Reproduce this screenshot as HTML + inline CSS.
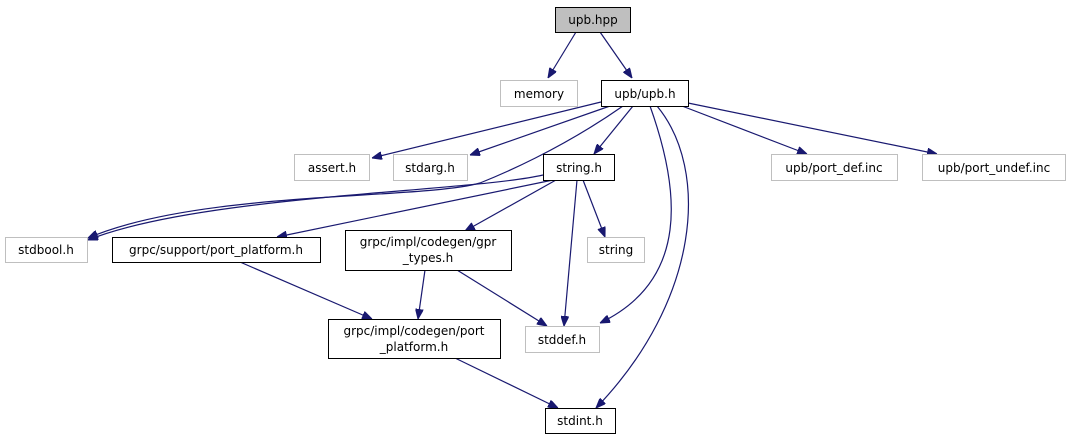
<!DOCTYPE html>
<html><head><meta charset="utf-8"><style>
html,body{margin:0;padding:0;background:#fff;width:1070px;height:440px;overflow:hidden}
text{font-family:"DejaVu Sans","Liberation Sans",sans-serif;font-size:12px;fill:#000}
</style></head><body>
<svg width="1070" height="440" viewBox="0 0 1070 440" xmlns="http://www.w3.org/2000/svg">
<defs><marker id="a" markerWidth="10" markerHeight="8" refX="10" refY="4" orient="auto" markerUnits="userSpaceOnUse"><path d="M0,0 L10,4 L0,8 z" fill="#191970" stroke="#191970"/></marker></defs>
<g fill="none" stroke="#191970" stroke-width="1.2" marker-end="url(#a)">
<path d="M576,32 L548,78"/>
<path d="M600,32 L632,78"/>
<path d="M601,102 L372,158"/>
<path d="M610,106 L470,155"/>
<path d="M623,106 C560,150 500,175 480,183 C420,200 200,190 88,238"/>
<path d="M543,175 C470,192 200,195 88,240"/>
<path d="M553,180 L277,237"/>
<path d="M556,180 L465,231"/>
<path d="M583,180 L605,237"/>
<path d="M577,180 L564,326"/>
<path d="M633,106 L594,154"/>
<path d="M650,106 C680,190 690,280 600,323"/>
<path d="M657,106 C710,170 700,300 596,408"/>
<path d="M682,106 L807,154"/>
<path d="M688,103 L937,154"/>
<path d="M240,262 L372,319"/>
<path d="M425,270 L418,319"/>
<path d="M457,270 L547,326"/>
<path d="M455,358 L558,408"/>
</g>
<g stroke-width="1">
<rect x="555.5" y="7.5" width="75" height="25" fill="#bfbfbf" stroke="#000"/>
<rect x="500.5" y="80.5" width="77" height="26" fill="#fff" stroke="#bfbfbf"/>
<rect x="601.5" y="80.5" width="87" height="26" fill="#fff" stroke="#000"/>
<rect x="294.5" y="154.5" width="75" height="26" fill="#fff" stroke="#bfbfbf"/>
<rect x="393.5" y="154.5" width="74" height="26" fill="#fff" stroke="#bfbfbf"/>
<rect x="543.5" y="154.5" width="71" height="26" fill="#fff" stroke="#000"/>
<rect x="771.5" y="154.5" width="126" height="26" fill="#fff" stroke="#bfbfbf"/>
<rect x="922.5" y="154.5" width="143" height="26" fill="#fff" stroke="#bfbfbf"/>
<rect x="5.5" y="237.5" width="82" height="25" fill="#fff" stroke="#bfbfbf"/>
<rect x="112.5" y="237.5" width="208" height="25" fill="#fff" stroke="#000"/>
<rect x="345.5" y="230.5" width="166" height="40" fill="#fff" stroke="#000"/>
<rect x="587.5" y="237.5" width="57" height="25" fill="#fff" stroke="#bfbfbf"/>
<rect x="328.5" y="319.5" width="172" height="39" fill="#fff" stroke="#000"/>
<rect x="525.5" y="326.5" width="74" height="26" fill="#fff" stroke="#bfbfbf"/>
<rect x="545.5" y="408.5" width="70" height="25" fill="#fff" stroke="#000"/>
</g>
<g text-anchor="middle">
<text x="593" y="24">upb.hpp</text>
<text x="539" y="98">memory</text>
<text x="645" y="98">upb/upb.h</text>
<text x="332" y="172">assert.h</text>
<text x="430" y="172">stdarg.h</text>
<text x="579" y="172">string.h</text>
<text x="834" y="172">upb/port_def.inc</text>
<text x="994" y="172">upb/port_undef.inc</text>
<text x="46" y="254">stdbool.h</text>
<text x="216" y="254">grpc/support/port_platform.h</text>
<text x="428" y="246">grpc/impl/codegen/gpr</text>
<text x="428" y="262">_types.h</text>
<text x="616" y="254">string</text>
<text x="414" y="335">grpc/impl/codegen/port</text>
<text x="414" y="351">_platform.h</text>
<text x="562" y="344">stddef.h</text>
<text x="580" y="425">stdint.h</text>
</g>
</svg>
</body></html>
